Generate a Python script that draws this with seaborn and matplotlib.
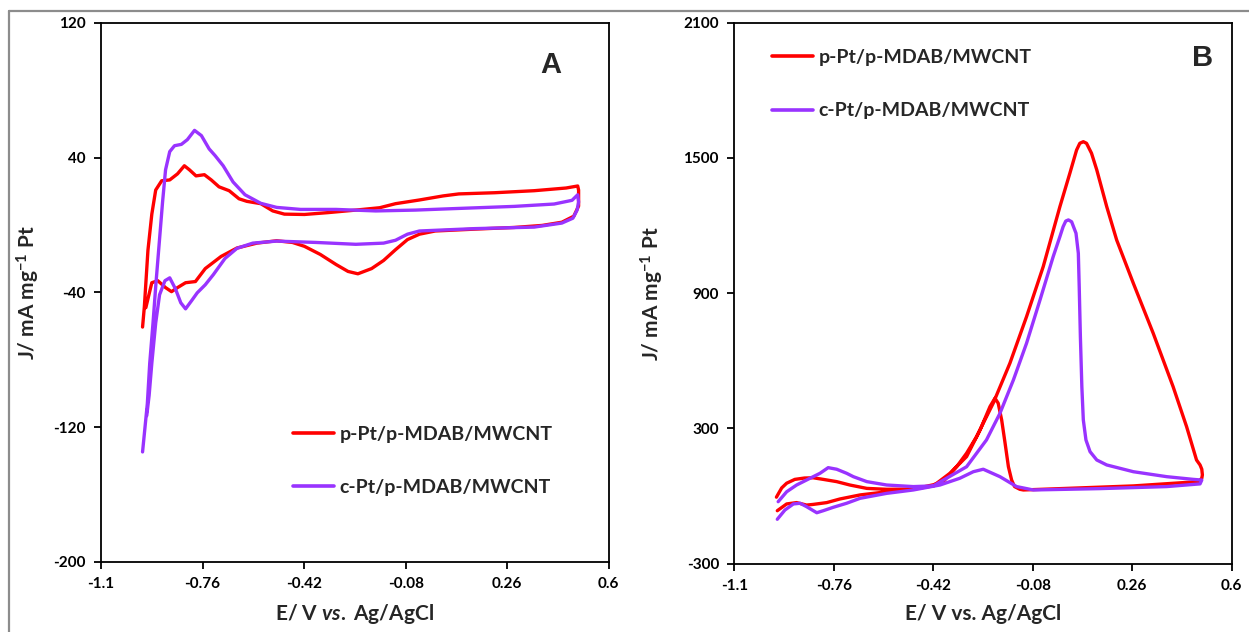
import pandas as pd
import seaborn as sns
import matplotlib.pyplot as plt
from matplotlib.lines import Line2D

# -----------------------------
# Panel A: CV in the blank electrolyte
# -----------------------------
e_a_p = [-0.961, -0.955, -0.943, -0.930, -0.917, -0.897, -0.870, -0.844, -0.821, -0.804,
         -0.782, -0.754, -0.731, -0.705, -0.671, -0.638, -0.612, -0.565, -0.525, -0.486,
         -0.419, -0.340, -0.247, -0.167, -0.114, -0.034, 0.045, 0.098, 0.218, 0.350,
         0.457, 0.496,
         0.499, 0.499, 0.483, 0.443, 0.377, 0.284, 0.151, 0.019, -0.034, -0.074,
         -0.114, -0.154, -0.194, -0.240, -0.273, -0.313, -0.366, -0.419, -0.459, -0.512,
         -0.578, -0.645, -0.698, -0.751, -0.784, -0.817, -0.844, -0.864, -0.884, -0.910,
         -0.930, -0.943, -0.950]
j_a_p = [-60.6, -48.6, -15.1, 6.4, 20.7, 26.2, 26.7, 30.3, 35.1, 32.7,
         29.1, 29.8, 26.7, 22.6, 20.3, 15.5, 14.0, 12.6, 8.3, 6.4,
         6.2, 7.3, 8.8, 10.2, 12.6, 14.8, 17.2, 18.4, 19.1, 20.3,
         21.9, 23.1,
         20.7, 11.2, 5.2, 1.6, -0.3, -1.5, -2.5, -3.6, -5.5, -8.7,
         -14.7, -21.1, -25.9, -29.0, -27.6, -23.5, -17.5, -12.7, -10.4, -9.4,
         -10.8, -13.7, -18.7, -25.9, -33.6, -34.3, -37.2, -39.6, -37.2, -33.1,
         -34.3, -43.9, -49.1]

e_a_c = [-0.961, -0.953, -0.945, -0.937, -0.926, -0.916, -0.905, -0.894, -0.884, -0.870,
         -0.854, -0.831, -0.811, -0.787, -0.764, -0.738, -0.718, -0.691, -0.658, -0.618,
         -0.565, -0.512, -0.432, -0.313, -0.180, -0.048, 0.085, 0.284, 0.417, 0.477,
         0.496,
         0.499, 0.494, 0.480, 0.443, 0.350, 0.151, -0.034, -0.074, -0.114, -0.154,
         -0.247, -0.380, -0.512, -0.592, -0.645, -0.685, -0.724, -0.751, -0.778, -0.797,
         -0.817, -0.833, -0.851, -0.870, -0.886, -0.904, -0.917, -0.930, -0.939, -0.947]
j_a_c = [-134.7, -120.4, -106.0, -82.1, -58.2, -34.3, -10.4, 13.6, 32.7, 43.5,
         47.0, 47.8, 50.6, 56.1, 53.0, 45.1, 41.1, 35.1, 25.5, 17.9,
         12.8, 10.4, 9.2, 9.2, 8.3, 8.8, 9.7, 11.0, 12.4, 14.6,
         17.9,
         13.6, 8.8, 4.0, 1.1, -1.3, -2.2, -3.6, -5.5, -9.1, -10.8,
         -11.5, -10.4, -9.6, -10.8, -13.9, -19.9, -29.5, -35.5, -40.3, -45.0,
         -49.8, -46.2, -37.9, -31.4, -33.1, -41.4, -58.2, -82.1, -101.2, -113.2]

# -----------------------------
# Panel B: CV with fuel added
# -----------------------------
e_b_p = [-0.956, -0.938, -0.921, -0.893, -0.860, -0.830, -0.796, -0.750, -0.705, -0.647,
         -0.579, -0.488, -0.420, -0.386, -0.340, -0.306, -0.272, -0.215, -0.158, -0.101,
         -0.044, 0.013, 0.047, 0.070, 0.081, 0.093, 0.104, 0.121, 0.139, 0.173,
         0.207, 0.264, 0.332, 0.400, 0.446, 0.480, 0.492, 0.498, 0.500, 0.498,
         0.486, 0.264, 0.036, -0.112, -0.124, -0.142, -0.152, -0.163, -0.175, -0.186,
         -0.198, -0.209, -0.226, -0.260, -0.306, -0.363, -0.420, -0.488, -0.579, -0.670,
         -0.739, -0.784, -0.830, -0.853, -0.887, -0.921, -0.953]
j_b_p = [-5, 36, 57, 74, 80, 81, 74, 64, 49, 34,
         30, 31, 50, 64, 130, 190, 263, 412, 589, 796,
         1018, 1284, 1432, 1535, 1565, 1572, 1565, 1521, 1447, 1284,
         1136, 944, 722, 485, 308, 160, 138, 119, 94, 79,
         64, 45, 34, 27, 30, 42, 71, 130, 240, 337,
         412, 434, 397, 293, 175, 101, 45, 31, 19, 5,
         -13, -29, -37, -40, -29, -35, -65]

e_b_c = [-0.950, -0.921, -0.887, -0.841, -0.807, -0.779, -0.750, -0.716, -0.693, -0.647,
         -0.579, -0.488, -0.420, -0.306, -0.238, -0.192, -0.146, -0.101, -0.055, -0.010,
         0.013, 0.024, 0.033, 0.042, 0.053, 0.068, 0.076, 0.079, 0.083, 0.088,
         0.093, 0.102, 0.116, 0.139, 0.173, 0.264, 0.378, 0.469, 0.498,
         0.492, 0.378, 0.150, -0.078, -0.135, -0.192, -0.249, -0.283, -0.329, -0.397,
         -0.488, -0.579, -0.670, -0.716, -0.762, -0.796, -0.818, -0.853, -0.875, -0.898,
         -0.927, -0.953]
j_b_c = [-25, 19, 49, 79, 101, 126, 119, 101, 86, 64,
         49, 42, 45, 130, 249, 367, 515, 678, 870, 1062,
         1151, 1195, 1220, 1225, 1217, 1166, 1077, 929, 707, 485,
         338, 249, 197, 160, 138, 108, 86, 74, 71,
         54, 42, 33, 27, 42, 86, 119, 108, 79, 49,
         27, 12, -10, -32, -50, -65, -74, -47, -32, -35,
         -62, -103]

labels = ["p-Pt/p-MDAB/MWCNT", "c-Pt/p-MDAB/MWCNT"]
colors = ["#FF0000", "#9933FF"]
x_ticks = [-1.1, -0.76, -0.42, -0.08, 0.26, 0.6]
x_ticklabels = ["-1.1", "-0.76", "-0.42", "-0.08", "0.26", "0.6"]
y_ticks_a = [-200, -120, -40, 40, 120]
y_ticks_b = [-300, 300, 900, 1500, 2100]

df_a = pd.concat([
    pd.DataFrame({"E": e_a_p, "J": j_a_p, "catalyst": labels[0]}),
    pd.DataFrame({"E": e_a_c, "J": j_a_c, "catalyst": labels[1]}),
])
df_b = pd.concat([
    pd.DataFrame({"E": e_b_p, "J": j_b_p, "catalyst": labels[0]}),
    pd.DataFrame({"E": e_b_c, "J": j_b_c, "catalyst": labels[1]}),
])

sns.set_style("white")
plt.rcParams["font.family"] = ["Lato", "DejaVu Sans"]
plt.rcParams["font.weight"] = "bold"
plt.rcParams["axes.unicode_minus"] = False
plt.rcParams["mathtext.fontset"] = "custom"
plt.rcParams["mathtext.rm"] = "Lato:bold"
plt.rcParams["mathtext.it"] = "Lato:italic:bold"

fig = plt.figure(figsize=(12.49, 6.32), dpi=100)
ax_a = fig.add_axes([0.0809, 0.1108, 0.4065, 0.8533])
ax_b = fig.add_axes([0.5879, 0.1081, 0.3982, 0.8560])

# thin grey frame at top/left of the picture
fig.add_artist(Line2D([9 / 1249, 1.0], [1 - 11 / 632, 1 - 11 / 632],
                      transform=fig.transFigure, color="#8c8c8c", lw=1.6))
fig.add_artist(Line2D([9 / 1249, 9 / 1249], [0.0, 1 - 11 / 632],
                      transform=fig.transFigure, color="#8c8c8c", lw=1.6))

palette = dict(zip(labels, colors))
panels = [(ax_a, df_a, y_ticks_a, "A", (0.886, 0.922), r"E/ V $\mathit{vs.}$ Ag/AgCl",
           (-0.116, 0.5), (0.359, 0.187)),
          (ax_b, df_b, y_ticks_b, "B", (0.942, 0.935), "E/ V vs. Ag/AgCl",
           (-0.137, 0.5), (0.056, 0.886))]

for ax, df, yt, letter, lpos, xlab, ylpos, legpos in panels:
    sns.lineplot(data=df, x="E", y="J", hue="catalyst", palette=palette, sort=False,
                 estimator=None, legend=False, lw=2.4, ax=ax,
                 solid_joinstyle="round", solid_capstyle="round")
    ax.set_xlim(-1.1, 0.6)
    ax.set_ylim(yt[0], yt[-1])
    ax.set_xticks(x_ticks)
    ax.set_xticklabels(x_ticklabels)
    ax.set_yticks(yt)
    ax.tick_params(axis="both", direction="out", length=5, width=1.3, labelsize=11,
                   left=True, bottom=True, colors="black")
    ax.tick_params(axis="x", pad=6)
    ax.tick_params(axis="y", pad=6)
    for s in ax.spines.values():
        s.set_color("black")
        s.set_linewidth(1.3)
    ax.set_xlabel(xlab, fontsize=15, fontweight="bold")
    ax.set_ylabel(r"J/ mA mg$^{-1}$ Pt", fontsize=15, fontweight="bold")
    ax.xaxis.set_label_coords(0.5, -0.074)
    ax.yaxis.set_label_coords(*ylpos)
    ax.text(lpos[0], lpos[1], letter, transform=ax.transAxes, ha="center", va="center",
            fontsize=21, fontweight="bold", family="Liberation Sans")
    handles = [Line2D([], [], color=c, lw=2.6) for c in colors]
    ax.legend(handles, labels, loc="center left", bbox_to_anchor=legpos, frameon=False,
              borderpad=0, handlelength=2.1, handletextpad=0.3, labelspacing=1.86,
              prop={"size": 14, "weight": "bold"})

fig.savefig("out.png", dpi=100)
